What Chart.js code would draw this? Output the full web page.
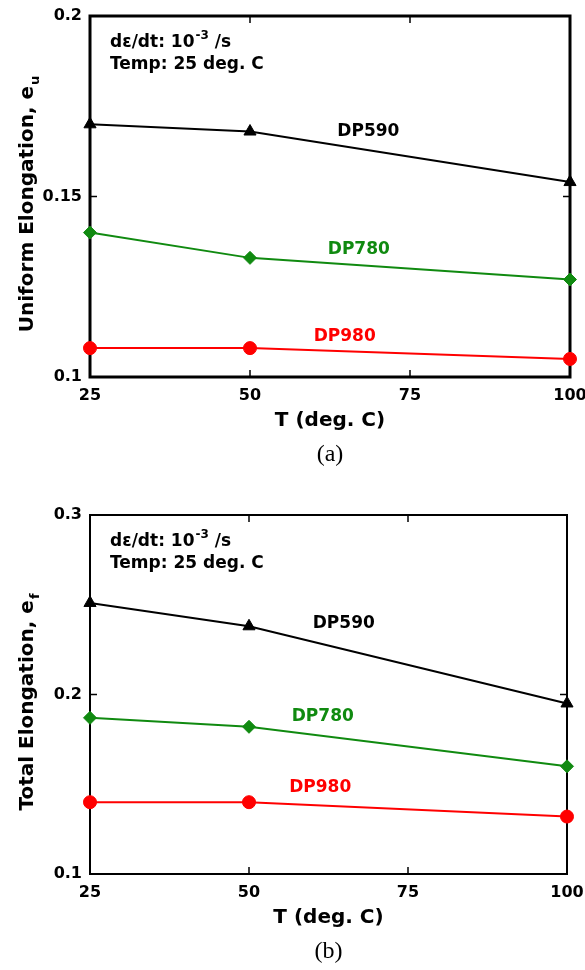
<!DOCTYPE html>
<html>
<head>
<meta charset="utf-8">
<script src="https://cdn.jsdelivr.net/npm/chart.js@4.4.0/dist/chart.umd.min.js"></script>
<style>
  body { margin: 0; background: #fff; }
  .box { position: absolute; left: 0; width: 585px; height: 485px; }
</style>
</head>
<body>
<div class="box" style="top:0"><canvas id="uniform"></canvas></div>
<div class="box" style="top:485px"><canvas id="total"></canvas></div>
<script>
const TEMPS = [25, 50, 100];
const GRADES = ['DP590', 'DP780', 'DP980'];

const UNIFORM_DP590 = [0.170, 0.168, 0.154];
const UNIFORM_DP780 = [0.140, 0.133, 0.127];
const UNIFORM_DP980 = [0.108, 0.108, 0.105];

const TOTAL_DP590 = [0.251, 0.238, 0.195];
const TOTAL_DP780 = [0.187, 0.182, 0.160];
const TOTAL_DP980 = [0.140, 0.140, 0.132];

const COLORS = ['#000000', '#108a10', '#ff0000'];
const MARKERS = ['triangle', 'rectRot', 'circle'];
const MARKER_SIZE = [7, 6.5, 6.5];

const BOLD = '"DejaVu Sans", sans-serif';

// draws frame, inward ticks, titles and the in-plot notes
const decorations = {
    id: 'decorations',
    beforeDatasetsDraw(chart, args, opts) {
        const { ctx, chartArea: a, scales: { x, y } } = chart;
        ctx.save();
        ctx.strokeStyle = '#000';
        ctx.lineWidth = 1.5;
        ctx.beginPath();
        x.ticks.forEach(t => {
            const px = x.getPixelForValue(t.value);
            ctx.moveTo(px, a.bottom); ctx.lineTo(px, a.bottom - 7);
            ctx.moveTo(px, a.top); ctx.lineTo(px, a.top + 7);
        });
        y.ticks.forEach(t => {
            const py = y.getPixelForValue(t.value);
            ctx.moveTo(a.left, py); ctx.lineTo(a.left + 7, py);
            ctx.moveTo(a.right, py); ctx.lineTo(a.right - 7, py);
        });
        ctx.stroke();
        ctx.lineWidth = opts.frame;
        ctx.strokeRect(a.left, a.top, a.width, a.height);
        ctx.restore();
    },
    afterDatasetsDraw(chart, args, opts) {
        const { ctx, chartArea: a, scales: { x, y } } = chart;
        ctx.save();
        ctx.fillStyle = '#000';

        // rate / temperature note
        ctx.textBaseline = 'middle';
        ctx.textAlign = 'left';
        ctx.font = 'bold 17px ' + BOLD;
        let tx = a.left + 20;
        ctx.fillText('dε/dt: 10', tx, a.top + 27);
        tx += ctx.measureText('dε/dt: 10').width;
        ctx.font = 'bold 12px ' + BOLD;
        ctx.fillText('-3', tx + 1, a.top + 20);
        tx += ctx.measureText('-3').width + 1;
        ctx.font = 'bold 17px ' + BOLD;
        ctx.fillText(' /s', tx, a.top + 27);
        ctx.fillText('Temp: 25 deg. C', a.left + 20, a.top + 49);

        // series names
        ctx.textAlign = 'center';
        ctx.font = 'bold 17px ' + BOLD;
        opts.names.forEach((p, i) => {
            ctx.fillStyle = COLORS[i];
            ctx.fillText(GRADES[i], x.getPixelForValue(p[0]), y.getPixelForValue(p[1]));
        });

        // x title
        ctx.fillStyle = '#000';
        ctx.font = 'bold 20px ' + BOLD;
        ctx.fillText('T (deg. C)', (a.left + a.right) / 2, a.bottom + 44);

        // caption
        ctx.font = '24px "Liberation Serif", serif';
        ctx.fillText(opts.caption, (a.left + a.right) / 2, a.bottom + 78);

        // y title with subscript
        ctx.translate(33, (a.top + a.bottom) / 2 + 8);
        ctx.rotate(-Math.PI / 2);
        ctx.textBaseline = 'alphabetic';
        ctx.textAlign = 'left';
        ctx.font = 'bold 20px ' + BOLD;
        const main = opts.ytitle + ', e';
        const w1 = ctx.measureText(main).width;
        ctx.font = 'bold 13px ' + BOLD;
        const w2 = ctx.measureText(opts.sub).width;
        const start = -(w1 + w2) / 2;
        ctx.font = 'bold 20px ' + BOLD;
        ctx.fillText(main, start, 0);
        ctx.font = 'bold 13px ' + BOLD;
        ctx.fillText(opts.sub, start + w1 + 1, 6);
        ctx.restore();
    }
};

function makeChart(id, series, yMin, yMax, yStep, deco, pad) {
    return new Chart(document.getElementById(id), {
        type: 'line',
        data: {
            datasets: series.map((vals, i) => ({
                label: GRADES[i],
                data: TEMPS.map((t, j) => ({ x: t, y: vals[j] })),
                borderColor: COLORS[i],
                backgroundColor: COLORS[i],
                pointBackgroundColor: COLORS[i],
                pointBorderColor: COLORS[i],
                pointStyle: MARKERS[i],
                pointRadius: MARKER_SIZE[i],
                pointBorderWidth: 1,
                borderWidth: 2,
                tension: 0,
                clip: false
            }))
        },
        options: {
            responsive: true,
            maintainAspectRatio: false,
            animation: false,
            layout: { padding: pad },
            scales: {
                x: {
                    type: 'linear',
                    min: 25,
                    max: 100,
                    afterFit: s => { s.height = 50; s.paddingLeft = 0; s.paddingRight = 0; },
                    grid: { display: false, drawTicks: false },
                    border: { display: false },
                    ticks: {
                        stepSize: 25,
                        padding: 9,
                        maxRotation: 0,
                        autoSkip: false,
                        color: '#000',
                        font: { family: BOLD, size: 16, weight: 'bold' }
                    }
                },
                y: {
                    min: yMin,
                    max: yMax,
                    afterFit: s => { s.width = 90; s.paddingTop = 0; s.paddingBottom = 0; },
                    grid: { display: false, drawTicks: false },
                    border: { display: false },
                    ticks: {
                        stepSize: yStep,
                        padding: 8,
                        color: '#000',
                        font: { family: BOLD, size: 16, weight: 'bold' },
                        callback: v => String(+v.toFixed(2))
                    }
                }
            },
            plugins: {
                legend: { display: false },
                tooltip: { enabled: false },
                decorations: deco
            }
        },
        plugins: [decorations]
    });
}

makeChart('uniform', [UNIFORM_DP590, UNIFORM_DP780, UNIFORM_DP980], 0.1, 0.2, 0.05, {
    frame: 3,
    caption: '(a)',
    ytitle: 'Uniform Elongation',
    sub: 'u',
    names: [[68.5, 0.168], [67, 0.1352], [64.8, 0.1111]]
}, { top: 16, right: 15, left: 0, bottom: 58 });

makeChart('total', [TOTAL_DP590, TOTAL_DP780, TOTAL_DP980], 0.1, 0.3, 0.1, {
    frame: 2,
    caption: '(b)',
    ytitle: 'Total Elongation',
    sub: 'f',
    names: [[64.9, 0.2393], [61.6, 0.1875], [61.2, 0.1479]]
}, { top: 30, right: 18, left: 0, bottom: 46 });
</script>
</body>
</html>
